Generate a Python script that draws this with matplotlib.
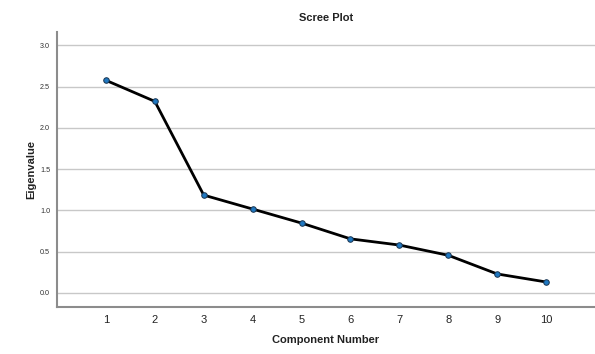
import matplotlib
matplotlib.use("Agg")
import matplotlib.pyplot as plt

components = [1, 2, 3, 4, 5, 6, 7, 8, 9, 10]
eigenvalues = [2.575, 2.32, 1.185, 1.016, 0.846, 0.655, 0.58, 0.456, 0.23, 0.133]
y_ticks = [0.0, 0.5, 1.0, 1.5, 2.0, 2.5, 3.0]
y_tick_labels = ["0.0", "0.5", "1.0", "1.5", "2.0", "2.5", "3.0"]

plt.rcParams['font.family'] = ['Liberation Sans', 'DejaVu Sans']

fig = plt.figure(figsize=(5.95, 3.54), dpi=100)
ax = fig.add_axes([0.0958, 0.1328, 0.9042, 0.7768])

for yv in y_ticks:
    ax.axhline(yv, color='#c8c8c8', lw=1.0, zorder=0)

ax.plot(components, eigenvalues, color='black', lw=2.0, zorder=2)
ax.plot(components, eigenvalues, 'o', ms=4, mfc='#1f78c1', mec='#1a3550', mew=0.7, zorder=3)

ax.set_xlim(0, 11)
ax.set_ylim(-0.17, 3.16)
ax.set_xticks(components)
ax.set_xticklabels([str(c) for c in components], fontsize=8, color='#222222')
ax.set_yticks(y_ticks)
ax.set_yticklabels(y_tick_labels, fontsize=5.2, color='#333333')
ax.tick_params(axis='both', length=0)
ax.tick_params(axis='x', pad=6)
ax.tick_params(axis='y', pad=5)

for s in ['top', 'right']:
    ax.spines[s].set_visible(False)
for s in ['left', 'bottom']:
    ax.spines[s].set_color('#8c8c8c')
    ax.spines[s].set_linewidth(1.5)

ax.set_title("Scree Plot", fontsize=8, fontweight='bold', pad=8, color='#222222')
ax.set_xlabel("Component Number", fontsize=8, fontweight='bold', labelpad=7, color='#222222')
ax.set_ylabel("Eigenvalue", fontsize=8, fontweight='bold', labelpad=3, color='#222222')

fig.savefig("out.png", dpi=100)
